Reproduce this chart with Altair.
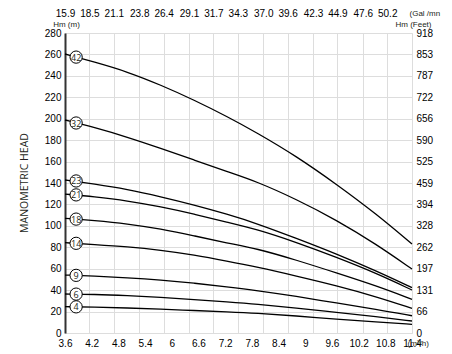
import altair as alt
import pandas as pd

# ---- data -------------------------------------------------------------
flow = [3.6, 4.25, 5.0, 5.75, 6.5, 7.25, 7.9, 8.8, 9.7, 10.6, 11.4]
stages = ["42", "32", "23", "21", "18", "14", "9", "6", "4"]
head_42 = [260.4, 253.0, 243.9, 231.5, 217.5, 201.9, 187.2, 165.0, 138.9, 111.0, 83.0]
head_32 = [198.8, 192.0, 182.9, 172.4, 161.5, 150.5, 141.5, 124.8, 105.5, 82.8, 59.7]
head_23 = [142.8, 139.1, 134.1, 127.2, 119.5, 110.8, 102.4, 88.4, 73.9, 57.9, 42.3]
head_21 = [129.7, 127.2, 123.5, 117.9, 111.1, 103.3, 96.9, 84.6, 70.7, 55.7, 40.1]
head_18 = [107.0, 105.0, 102.0, 97.1, 90.8, 83.9, 78.9, 68.1, 56.1, 44.0, 31.4]
head_14 = [84.3, 82.6, 80.5, 77.3, 72.8, 67.0, 61.7, 53.2, 44.2, 33.9, 23.0]
head_9 = [54.1, 53.2, 51.6, 49.5, 46.6, 43.0, 39.7, 34.2, 28.0, 22.2, 16.1]
head_6 = [36.4, 36.1, 34.9, 33.3, 31.2, 29.0, 27.0, 23.4, 19.2, 15.2, 11.2]
head_4 = [24.6, 24.1, 23.4, 22.3, 21.0, 19.8, 18.6, 15.9, 12.9, 10.2, 8.1]
heads = [head_42, head_32, head_23, head_21, head_18, head_14, head_9, head_6, head_4]

label_flow = 3.85
label_head = [257.5, 196.0, 141.9, 128.9, 106.3, 83.7, 53.8, 36.3, 24.4]

x_ticks = [3.6, 4.2, 4.8, 5.4, 6, 6.6, 7.2, 7.8, 8.4, 9, 9.6, 10.2, 10.8, 11.4]
y_ticks = [0, 20, 40, 60, 80, 100, 120, 140, 160, 180, 200, 220, 240, 260, 280]
gal_ticks = [15.9, 18.5, 21.1, 23.8, 26.4, 29.1, 31.7, 34.3, 37.0, 39.6, 42.3, 44.9, 47.6, 50.2]
ft_ticks = [0, 66, 131, 197, 262, 328, 394, 459, 525, 590, 656, 722, 787, 853, 918]

# ---- tables -------------------------------------------------------------
rows = []
for s, h in zip(stages, heads):
    for q, v in zip(flow, h):
        rows.append({"stage": s, "flow": q, "head": v})
curves_df = pd.DataFrame(rows)
labels_df = pd.DataFrame({"stage": stages, "flow": [label_flow] * len(stages), "head": label_head})
gal_df = pd.DataFrame({"gal": gal_ticks})
ft_df = pd.DataFrame({"ft": ft_ticks})

FONT = "Open Sans"
TXT = "#231f20"
gal_step = (gal_ticks[-1] - gal_ticks[0]) / (len(gal_ticks) - 1)
gal_domain = [gal_ticks[0], gal_ticks[0] + len(gal_ticks) * gal_step]

xs = alt.Scale(domain=[x_ticks[0], x_ticks[-1]], nice=False, zero=False)
ys = alt.Scale(domain=[y_ticks[0], y_ticks[-1]], nice=False)

common = dict(labelOverlap=False, labelFlush=False, ticks=False, titleFontWeight="normal",
              titleFontSize=8, titleColor=TXT)

x_axis = alt.Axis(values=x_ticks, format="~g", grid=False, domain=False,
                  labelPadding=5, title="(m³/h)", titleX=342, titleY=10,
                  titleAlign="left", titleBaseline="middle", **common)
y_axis = alt.Axis(values=y_ticks, grid=True, domain=True, domainColor="#333",
                  domainWidth=2, labelPadding=4, title="Hm (m)", titleAngle=0,
                  titleX=1, titleY=-9, titleAlign="center", titleBaseline="middle", **common)

X = alt.X("flow:Q", scale=xs, axis=x_axis)
Y = alt.Y("head:Q", scale=ys, axis=y_axis)

curves = alt.Chart(curves_df).mark_line(color="black", strokeWidth=1.3, interpolate="basis").encode(
    x=X, y=Y, detail="stage:N")
circles = alt.Chart(labels_df).mark_point(shape="circle", filled=True, fill="white", stroke="black",
                                          strokeWidth=1, size=150, opacity=1).encode(x=X, y=Y)
texts = alt.Chart(labels_df).mark_text(font=FONT, fontSize=9, color=TXT, baseline="middle", dy=0.5).encode(
    x=X, y=Y, text="stage:N")

inner = alt.layer(curves, circles, texts)

top = alt.Chart(gal_df).mark_point(opacity=0).encode(
    x=alt.X("gal:Q", scale=alt.Scale(domain=gal_domain, nice=False, zero=False),
            axis=alt.Axis(orient="top", values=gal_ticks, format=".1f", grid=True,
                          domain=False, labelPadding=15, title="(Gal /mn", titleX=344, titleY=-20,
                          titleAlign="left", titleBaseline="middle", **common)))
right = alt.Chart(ft_df).mark_point(opacity=0).encode(
    y=alt.Y("ft:Q", scale=alt.Scale(domain=[0, y_ticks[-1] * 3.28], nice=False),
            axis=alt.Axis(orient="right", values=ft_ticks, format="d", grid=False,
                          domain=False, labelPadding=4, title="Hm (Feet)", titleAngle=0,
                          titleX=1, titleY=-9, titleAlign="center", titleBaseline="middle", **common)))

chart = alt.layer(inner, top, right).resolve_scale(x="independent", y="independent").properties(
    width=347, height=300,
    padding={"left": 65, "top": 33, "right": 40, "bottom": 21},
    autosize=alt.AutoSizeParams(type="none"),
    title=alt.TitleParams("MANOMETRIC HEAD", orient="left", fontSize=10.5, fontWeight="normal",
                          font=FONT, color=TXT, offset=14),
).configure_view(stroke="#333", strokeWidth=1.5).configure_axis(
    labelFont=FONT, labelFontSize=8, labelColor=TXT, titleFont=FONT, labelOverlap=False,
    gridColor="#c4c4c4", gridDash=[2, 2], gridWidth=0.8,
).configure(background="white")

chart.save("out.html", embed_options={"renderer": "svg", "actions": False})
